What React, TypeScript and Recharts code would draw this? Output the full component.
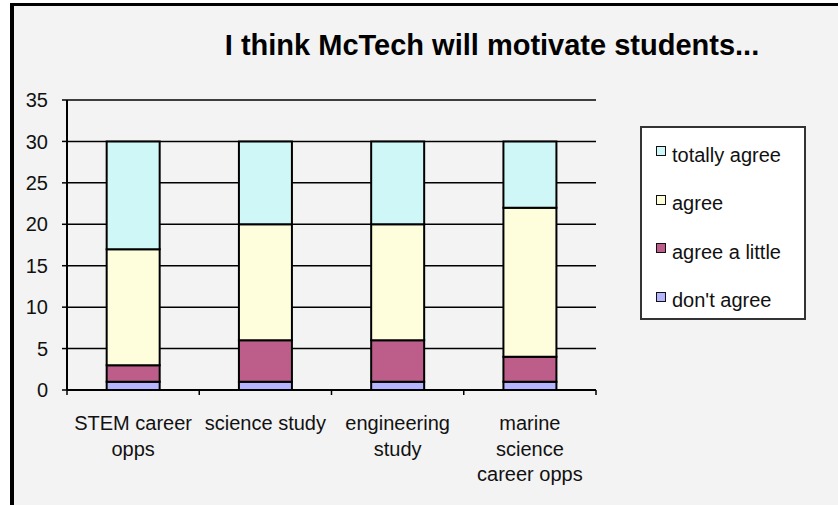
import React from "react";
import { BarChart, Bar, XAxis, YAxis, CartesianGrid, Legend } from "recharts";

const categories = [
  "STEM career opps",
  "science study",
  "engineering study",
  "marine science career opps",
];
const dontAgree = [1, 1, 1, 1];
const agreeLittle = [2, 5, 5, 3];
const agree = [14, 14, 14, 18];
const totallyAgree = [13, 10, 10, 8];
const yTicks = [0, 5, 10, 15, 20, 25, 30, 35];

const series = [
  { key: "dontAgree", name: "don't agree", color: "#b4b4ff" },
  { key: "agreeLittle", name: "agree a little", color: "#bd5e8a" },
  { key: "agree", name: "agree", color: "#fefedd" },
  { key: "totallyAgree", name: "totally agree", color: "#cff7f7" },
];

const data = categories.map((name, i) => ({
  name,
  dontAgree: dontAgree[i],
  agreeLittle: agreeLittle[i],
  agree: agree[i],
  totallyAgree: totallyAgree[i],
}));

const FONT = "'Liberation Sans', Arial, sans-serif";

// word wrap measured with canvas so the breaks follow the real font
let ctx: CanvasRenderingContext2D | null = null;
function wrap(label: string, maxWidth: number) {
  if (!ctx) {
    ctx = document.createElement("canvas").getContext("2d");
    if (ctx) ctx.font = "20px 'Liberation Sans', Arial, sans-serif";
  }
  const words = label.split(" ");
  const lines: string[] = [];
  let cur = "";
  words.forEach((w) => {
    const next = cur ? cur + " " + w : w;
    const width = ctx ? ctx.measureText(next).width : next.length * 10;
    if (cur && width > maxWidth) {
      lines.push(cur);
      cur = w;
    } else {
      cur = next;
    }
  });
  if (cur) lines.push(cur);
  return lines;
}

const CategoryTick = (props: any) => {
  const { x, y, payload, index } = props;
  const half = payload.offset ?? 66;
  const lines = wrap(String(payload.value), 128);
  return (
    <g>
      <line x1={x - half} x2={x - half} y1={y - 6} y2={y - 1} stroke="#000" strokeWidth={1.5} />
      {index === categories.length - 1 && (
        <line x1={x + half} x2={x + half} y1={y - 6} y2={y - 1} stroke="#000" strokeWidth={1.5} />
      )}
      <text x={x} y={y + 34} textAnchor="middle" fill="#111" fontSize={20} fontFamily={FONT}>
        {lines.map((l, i) => (
          <tspan key={i} x={x} dy={i === 0 ? 0 : 25.5}>
            {l}
          </tspan>
        ))}
      </text>
    </g>
  );
};

const LegendBox = () => (
  <div
    style={{
      width: 166,
      height: 194,
      boxSizing: "border-box",
      border: "2px solid #333",
      background: "#fff",
      fontFamily: FONT,
      fontSize: 20,
      color: "#111",
      paddingTop: 3,
    }}
  >
    {[...series].reverse().map((s) => (
      <div key={s.key} style={{ display: "flex", alignItems: "center", height: 48.5 }}>
        <span
          style={{
            display: "inline-block",
            width: 8,
            height: 8,
            marginLeft: 14,
            marginRight: 6,
            marginTop: -8,
            background: s.color,
            border: "1.5px solid #111",
          }}
        />
        <span>{s.name}</span>
      </div>
    ))}
  </div>
);

export default function App() {
  return (
    <div style={{ position: "absolute", left: 0, top: 0, width: 838, height: 505, background: "#fff" }}>
      <div
        style={{
          position: "absolute",
          left: 10,
          top: 3,
          width: 828,
          height: 502,
          boxSizing: "border-box",
          borderLeft: "4px solid #000",
          borderTop: "3px solid #000",
          background: "#f3f3f3",
        }}
      />
      <div
        style={{
          position: "absolute",
          left: 0,
          top: 30,
          width: 984,
          textAlign: "center",
          fontFamily: FONT,
          fontWeight: "bold",
          fontSize: 29,
          color: "#000",
          lineHeight: "30px",
        }}
      >
        I think McTech will motivate students...
      </div>
      <div style={{ position: "absolute", left: 0, top: 0 }}>
        <BarChart
          width={838}
          height={505}
          data={data}
          margin={{ top: 100, right: 242, bottom: 15, left: 10 }}
          barCategoryGap="30%"
        >
          <CartesianGrid vertical={false} stroke="#000" strokeWidth={1.5} />
          <XAxis
            dataKey="name"
            interval={0}
            height={100}
            axisLine={{ stroke: "#000", strokeWidth: 2 }}
            tickLine={false}
            tickSize={6}
            tickMargin={0}
            tick={<CategoryTick />}
          />
          <YAxis
            width={57}
            domain={[0, 35]}
            ticks={yTicks}
            interval={0}
            axisLine={{ stroke: "#000", strokeWidth: 2 }}
            tickLine={{ stroke: "#000", strokeWidth: 1.5 }}
            tickSize={5}
            tickMargin={14}
            tick={{ fill: "#111", fontSize: 20, fontFamily: FONT }}
          />
          <Legend
            layout="vertical"
            align="center"
            verticalAlign="middle"
            content={<LegendBox />}
            wrapperStyle={{ left: 640, top: 126, width: 166, height: 194 }}
          />
          {series.map((s) => (
            <Bar
              key={s.key}
              dataKey={s.key}
              name={s.name}
              stackId="a"
              fill={s.color}
              stroke="#000"
              strokeWidth={2}
              isAnimationActive={false}
            />
          ))}
        </BarChart>
      </div>
    </div>
  );
}
